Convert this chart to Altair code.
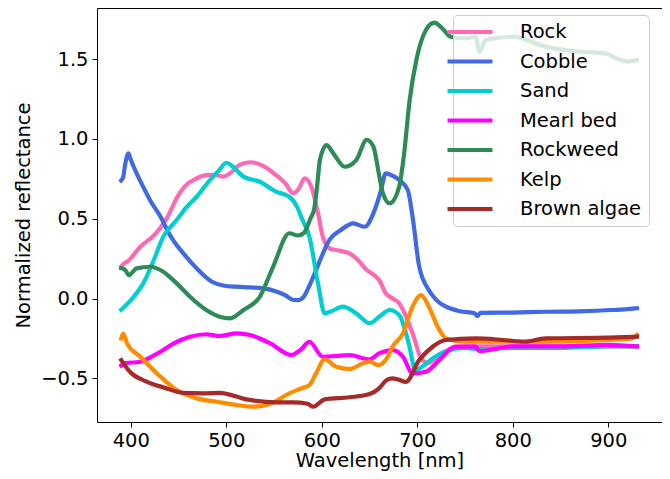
import altair as alt
import pandas as pd

# ---- data ----
series_names = ["Rock", "Cobble", "Sand", "Mearl bed", "Rockweed", "Kelp", "Brown algae"]
series_colors = ["#ff69b4", "#4169e1", "#00ced1", "#ff00ff", "#2e8b57", "#ff8c00", "#a52a2a"]

rock_wl = [390, 393, 396, 410, 425, 436, 451, 458, 468, 479, 488, 497, 504, 514, 525, 538, 552, 562, 570, 576,
           582, 589, 596, 601, 608, 618, 629, 638, 647, 654, 660, 667, 674, 681, 688, 695, 705, 712, 720, 728,
           736, 750, 765, 800, 850, 900, 930]
rock_val = [0.20, 0.22, 0.23, 0.325, 0.40, 0.486, 0.66, 0.712, 0.75, 0.774, 0.775, 0.764, 0.785, 0.837, 0.854,
            0.833, 0.774, 0.72, 0.66, 0.69, 0.754, 0.70, 0.534, 0.387, 0.315, 0.30, 0.283, 0.24, 0.179, 0.15,
            0.116, 0.033, 0.0, -0.03, -0.11, -0.218, -0.385, -0.404, -0.37, -0.34, -0.31, -0.30, -0.30, -0.30,
            -0.30, -0.30, -0.30]

cobble_wl = [390, 392, 394, 397.5, 400, 403, 413, 420, 432, 438, 445, 455, 469, 485, 498, 511, 525, 539, 553,
             562, 570, 575, 581, 587, 594, 601, 608, 620, 633, 645, 654, 659, 662, 667, 674, 681, 690, 695, 702,
             712, 720, 730, 745, 760, 763, 766, 800, 834, 870, 904, 920, 930]
cobble_val = [0.74, 0.76, 0.837, 0.91, 0.87, 0.826, 0.70, 0.618, 0.503, 0.43, 0.36, 0.283, 0.189, 0.105, 0.08,
              0.074, 0.07, 0.064, 0.043, 0.02, -0.009, -0.01, 0.011, 0.08, 0.179, 0.28, 0.367, 0.43, 0.471,
              0.45, 0.534, 0.618, 0.68, 0.785, 0.77, 0.743, 0.68, 0.513, 0.20, 0.053, -0.01, -0.051, -0.08,
              -0.093, -0.11, -0.09, -0.088, -0.083, -0.08, -0.072, -0.066, -0.061]

sand_wl = [390, 400, 413, 424, 434, 448, 458, 469, 483, 492, 500, 507, 518, 535, 552, 566, 574, 579, 587, 596,
           603, 610, 622, 636, 650, 660, 671, 681, 691, 698, 705, 715, 730, 750, 765, 800, 850, 900, 930]
sand_val = [-0.07, -0.01, 0.095, 0.24, 0.387, 0.492, 0.57, 0.638, 0.743, 0.80, 0.851, 0.826, 0.764, 0.732,
            0.67, 0.638, 0.576, 0.503, 0.387, 0.095, -0.093, -0.08, -0.051, -0.093, -0.155, -0.114, -0.072,
            -0.103, -0.281, -0.448, -0.428, -0.38, -0.33, -0.31, -0.32, -0.31, -0.31, -0.30, -0.30]

mearl_wl = [390, 394, 410, 420, 431, 445, 462, 479, 493, 511, 525, 546, 568, 578, 587, 601, 615, 629, 650, 660,
            674, 685, 695, 709, 723, 740, 761, 765, 800, 850, 900, 930]
mearl_val = [-0.42, -0.406, -0.396, -0.37, -0.334, -0.281, -0.24, -0.224, -0.235, -0.218, -0.229, -0.281,
             -0.354, -0.32, -0.271, -0.365, -0.36, -0.354, -0.381, -0.344, -0.323, -0.365, -0.469, -0.459,
             -0.386, -0.302, -0.302, -0.33, -0.30, -0.30, -0.29, -0.30]

rockweed_wl = [390, 394, 398, 406, 420, 434, 448, 462, 479, 493, 504, 518, 535, 549, 566, 575, 581, 588, 592,
               595, 598, 605, 612, 624, 636, 647, 654, 660, 664, 671, 681, 686, 692, 699, 709, 718, 726, 735,
               751, 761, 765, 772, 800, 834, 869, 897, 908, 920, 930]
rockweed_val = [0.19, 0.18, 0.147, 0.189, 0.199, 0.168, 0.095, 0.011, -0.072, -0.114, -0.124, -0.072, 0.011,
                0.199, 0.409, 0.395, 0.409, 0.50, 0.56, 0.70, 0.868, 0.962, 0.91, 0.826, 0.868, 0.994, 0.952,
                0.774, 0.66, 0.597, 0.70, 0.90, 1.245, 1.495, 1.683, 1.729, 1.694, 1.641, 1.631, 1.641, 1.547,
                1.621, 1.641, 1.579, 1.547, 1.537, 1.506, 1.485, 1.495]

kelp_wl = [390, 392, 396, 410, 431, 448, 469, 490, 511, 528, 549, 566, 580, 587, 594, 603, 615, 629, 643, 650,
           659, 668, 674, 685, 695, 704, 712, 723, 730, 751, 800, 834, 900, 925, 930]
kelp_val = [-0.25, -0.22, -0.281, -0.365, -0.49, -0.574, -0.626, -0.647, -0.668, -0.678, -0.653, -0.594,
            -0.56, -0.542, -0.469, -0.381, -0.428, -0.442, -0.406, -0.396, -0.417, -0.375, -0.302, -0.218,
            -0.051, 0.022, -0.051, -0.197, -0.25, -0.271, -0.27, -0.271, -0.26, -0.25, -0.229]

brown_wl = [390, 399, 417, 434, 455, 476, 493, 521, 553, 570, 585, 591, 603, 629, 650, 660, 668, 674, 681, 688,
            702, 716, 730, 761, 790, 813, 834, 900, 930]
brown_val = [-0.386, -0.459, -0.522, -0.557, -0.591, -0.594, -0.591, -0.632, -0.651, -0.651, -0.66, -0.678,
             -0.632, -0.619, -0.599, -0.563, -0.511, -0.50, -0.51, -0.522, -0.386, -0.302, -0.26, -0.25, -0.26,
             -0.271, -0.25, -0.245, -0.239]

x_ticks = [400, 500, 600, 700, 800, 900]
y_ticks = [-0.5, 0.0, 0.5, 1.0, 1.5]

all_wl = [rock_wl, cobble_wl, sand_wl, mearl_wl, rockweed_wl, kelp_wl, brown_wl]
all_val = [rock_val, cobble_val, sand_val, mearl_val, rockweed_val, kelp_val, brown_val]

rows = []
for name, wls, vals in zip(series_names, all_wl, all_val):
    for w, v in zip(wls, vals):
        rows.append({"series": name, "wavelength": w, "reflectance": v})
df = pd.DataFrame(rows)

FONT = "DejaVu Sans"
FS = 19.5

x_enc = alt.X(
    "wavelength:Q",
    scale=alt.Scale(domain=[364.6, 956.2], nice=False, zero=False),
    axis=alt.Axis(values=x_ticks, format="d", title="Wavelength [nm]", grid=False, domain=False,
                  tickSize=5, tickColor="black", labelPadding=4, titlePadding=2),
)
y_enc = alt.Y(
    "reflectance:Q",
    scale=alt.Scale(domain=[-0.774, 1.821], nice=False, zero=False),
    axis=alt.Axis(values=y_ticks, format=".1f", title="Normalized reflectance", grid=False, domain=False,
                  tickSize=5, tickColor="black", labelPadding=4, titlePadding=7),
)
color_enc = alt.Color(
    "series:N",
    scale=alt.Scale(domain=series_names, range=series_colors),
    legend=alt.Legend(title=None, orient="none", legendX=356, legendY=7),
)

layers = []
for name in series_names:
    layers.append(
        alt.Chart(df)
        .transform_filter(alt.datum.series == name)
        .mark_line(strokeWidth=4.2, strokeJoin="round", strokeCap="square", clip=True,
                   interpolate="monotone")
        .encode(x=x_enc, y=y_enc, color=color_enc)
    )

chart = (
    alt.layer(*layers)
    .properties(width=565, height=414, autosize=alt.AutoSizeParams(type="none"),
                padding={"left": 89, "top": 0, "right": 0, "bottom": 49})
    .configure_view(stroke="black", strokeWidth=1)
    .configure_axis(labelFont=FONT, labelFontSize=FS, labelColor="black", titleFont=FONT,
                    titleFontSize=FS, titleFontWeight="normal", titleColor="black")
    .configure_legend(labelFont=FONT, labelFontSize=FS, labelColor="black",
                      symbolType="M-3,0L3,0", symbolStrokeWidth=4.2, symbolSize=225,
                      labelOffset=40, padding=7,
                      fillColor="rgba(255,255,255,0.8)", strokeColor="#cccccc", cornerRadius=4,
                      rowPadding=9.5, labelLimit=300)
)

chart.save("out.html", embed_options={"renderer": "svg", "actions": False})
